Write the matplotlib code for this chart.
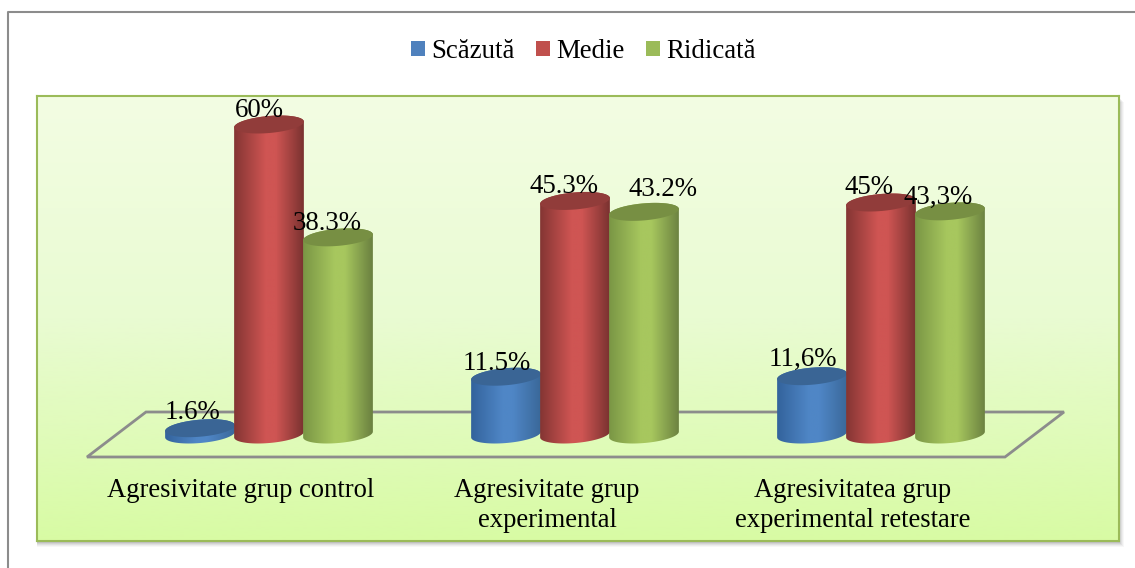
import numpy as np
import matplotlib
matplotlib.use("Agg")
import matplotlib.pyplot as plt
from matplotlib.colors import LinearSegmentedColormap
from matplotlib.lines import Line2D
from matplotlib.patches import Patch, Polygon, Rectangle

W, H = 1135, 568

categories = ["Agresivitate grup control", "Agresivitate grup\nexperimental", "Agresivitatea grup\nexperimental retestare"]
series = ["Scăzută", "Medie", "Ridicată"]
scazuta = [1.6, 11.5, 11.6]
medie = [60, 45.3, 45]
ridicata = [38.3, 43.2, 43.3]
scazuta_labels = ["1.6%", "11.5%", "11,6%"]
medie_labels = ["60%", "45.3%", "45%"]
ridicata_labels = ["38.3%", "43.2%", "43,3%"]

legend_colors = ["#4f81bd", "#c0504d", "#9bbb59"]
body_colors = [
    ["#33639c", "#4f86c6", "#3a6899"],
    ["#843533", "#cf5553", "#7a3230"],
    ["#7a9645", "#a7c75e", "#6a8040"],
]
top_colors = ["#3a6595", "#913c3a", "#778f43"]

# panel and scale in pixels of the picture
PANEL = (37, 96, 1119, 541)
GROUP0_X, GROUP_STEP = 269, 306
ZERO_Y, PX_PER_UNIT = 436.5, 5.2
BAR_STEP = 69 / GROUP_STEP
RX, RY, TILT = 35, 8.5, np.radians(5)

plt.rcParams["font.family"] = ["Liberation Serif", "DejaVu Serif"]
fig = plt.figure(figsize=(W / 100, H / 100), dpi=100)
fig.patch.set_facecolor("white")

ax = fig.add_axes([PANEL[0] / W, 1 - PANEL[3] / H, (PANEL[2] - PANEL[0]) / W, (PANEL[3] - PANEL[1]) / H])
xlim = ((PANEL[0] - GROUP0_X) / GROUP_STEP, (PANEL[2] - GROUP0_X) / GROUP_STEP)
ylim = ((ZERO_Y - PANEL[3]) / PX_PER_UNIT, (ZERO_Y - PANEL[1]) / PX_PER_UNIT)


def px_x(px):
    return (px - GROUP0_X) / GROUP_STEP


def px_y(py):
    return (ZERO_Y - py) / PX_PER_UNIT


def ring(cx, v, t):
    dx = RX * np.cos(t) * np.cos(TILT) - RY * np.sin(t) * np.sin(TILT)
    dy = RX * np.cos(t) * np.sin(TILT) + RY * np.sin(t) * np.cos(TILT)
    return np.column_stack([cx + dx / GROUP_STEP, v + dy / PX_PER_UNIT])


def cylinder(cx, v, colors, top, z):
    # base sits a touch higher than the nominal zero, as in the reference
    base = 2 / PX_PER_UNIT
    body = np.vstack([ring(cx, base, np.linspace(np.pi, 2 * np.pi, 40)), ring(cx, v, np.linspace(0, np.pi, 40))])
    cmap = LinearSegmentedColormap.from_list("c", [(0, colors[0]), (0.45, colors[1]), (0.6, colors[1]), (1, colors[2])])
    shape = Polygon(body, closed=True, transform=ax.transData, facecolor="none", edgecolor="none", zorder=z)
    ax.add_patch(shape)
    grad = np.linspace(0, 1, 128).reshape(1, -1)
    half = RX / GROUP_STEP
    im = ax.imshow(grad, cmap=cmap, extent=(cx - half, cx + half, -3, v + 3), aspect="auto", zorder=z, interpolation="bilinear")
    im.set_clip_path(shape)
    ax.add_patch(Polygon(ring(cx, v, np.linspace(0, 2 * np.pi, 80)), closed=True, facecolor=top, edgecolor="none", zorder=z + 0.1))


# soft shadow of the panel
for i, a in zip([5, 4, 3, 2, 1], [0.03, 0.04, 0.05, 0.06, 0.08]):
    fig.add_artist(Rectangle((PANEL[0] / W, 1 - (PANEL[3] + i + 1) / H), (PANEL[2] - PANEL[0] + i) / W, (PANEL[3] - PANEL[1]) / H,
                             transform=fig.transFigure, facecolor="black", edgecolor="none", alpha=a, zorder=-1))

# outer frame, open on the right and at the bottom
fig.add_artist(Line2D([7.5 / W, 7.5 / W, 1], [0, 1 - 12 / H, 1 - 12 / H], color="#8c8c8c", lw=1.5))

panel_cmap = LinearSegmentedColormap.from_list("panel", ["#f3fde3", "#e9fbd2", "#d8fba4"])
ax.imshow(np.linspace(0, 1, 256).reshape(-1, 1), cmap=panel_cmap, extent=(xlim[0], xlim[1], ylim[0], ylim[1]),
          aspect="auto", origin="upper", zorder=0)

# floor
floor_x = [px_x(p) for p in [87, 1005, 1064, 146]]
floor_y = [px_y(p) for p in [457, 457, 412, 412]]
ax.add_patch(Polygon(np.column_stack([floor_x, floor_y]), closed=True, facecolor="none", edgecolor="#8c8c8c", lw=2, zorder=1))

values = [scazuta, medie, ridicata]
labels = [scazuta_labels, medie_labels, ridicata_labels]
label_dx = [[-8, -9, -9], [-10, -11, -12], [-11, 19, -12]]
label_dy = [[9, 7, 10], [7, 8, 8], [7, 16, 7]]

for s, vals in enumerate(values):
    for g, v in enumerate(vals):
        cx = g + (s - 1) * BAR_STEP
        cylinder(cx, v, body_colors[s], top_colors[s], 2 + s)

for s, vals in enumerate(values):
    for g, v in enumerate(vals):
        cx = g + (s - 1) * BAR_STEP
        ax.annotate(labels[s][g], xy=(cx, v), xytext=(label_dx[s][g] * 0.72, label_dy[s][g] * 0.72),
                    textcoords="offset points", ha="center", va="baseline", fontsize=19.4, color="black", zorder=10)

for g, name in enumerate(categories):
    ax.annotate(name, xy=(g, px_y(478)), xytext=(-28 * 0.72, 0), textcoords="offset points",
                ha="center", va="top", fontsize=19.2, linespacing=1.27, color="black", zorder=10)

ax.set_xlim(xlim)
ax.set_ylim(ylim)
ax.set_xticks([])
ax.set_yticks([])
for side in ax.spines.values():
    side.set_color("#9bbb59")
    side.set_linewidth(1.5)

handles = [Patch(facecolor=c, edgecolor="none") for c in legend_colors]
fig.legend(handles, series, loc="center", bbox_to_anchor=(583.5 / W, 1 - 51.5 / H), ncol=3, frameon=False, fontsize=19.4,
           handlelength=0.52, handleheight=0.52, handletextpad=0.22, columnspacing=0.8)

fig.savefig("out.png", dpi=100)
plt.close(fig)
